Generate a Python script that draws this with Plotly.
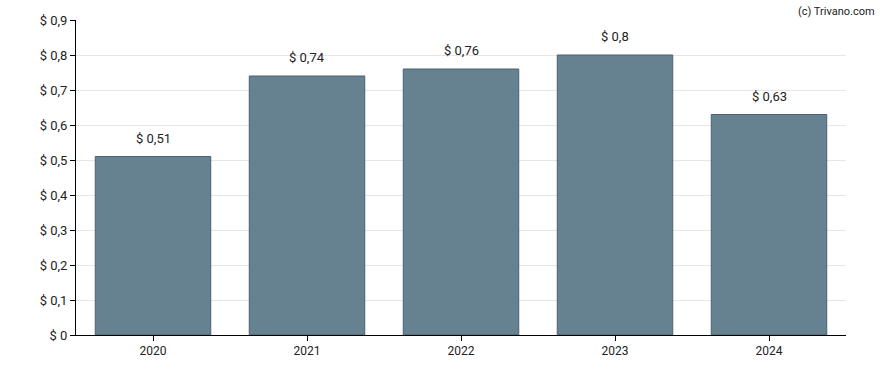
import plotly.graph_objects as go

years = ["2020", "2021", "2022", "2023", "2024"]
values = [0.51, 0.74, 0.76, 0.80, 0.63]
labels = ["$ 0,51", "$ 0,74", "$ 0,76", "$ 0,8", "$ 0,63"]
tick_vals = [0, 0.1, 0.2, 0.3, 0.4, 0.5, 0.6, 0.7, 0.8, 0.9]
tick_text = ["$ 0", "$ 0,1", "$ 0,2", "$ 0,3", "$ 0,4", "$ 0,5", "$ 0,6", "$ 0,7", "$ 0,8", "$ 0,9"]

fig = go.Figure()
fig.add_trace(go.Bar(
    x=years, y=values,
    marker=dict(color="#66818f", line=dict(color="#4a6274", width=1)),
    width=0.75, hoverinfo="skip",
))
annotations = [dict(x=i, y=v, xref="x", yref="y", text=t, showarrow=False,
                    yanchor="bottom", yshift=9,
                    font=dict(family="Roboto", size=13, color="#222"))
               for i, (v, t) in enumerate(zip(values, labels))]
annotations.append(dict(text="(c) Trivano.com", xref="paper", yref="paper",
                        x=1.04, y=1.055, xanchor="right", yanchor="top",
                        showarrow=False, font=dict(size=11, color="#222")))
fig.update_layout(
    width=888, height=370,
    margin=dict(l=76, r=42, t=20, b=35),
    paper_bgcolor="white", plot_bgcolor="white",
    font=dict(family="Roboto", size=13, color="#222"),
    showlegend=False,
    xaxis=dict(type="category", range=[-0.5, len(years) - 0.5], showline=True,
               linecolor="#000", linewidth=1,
               ticks="outside", ticklen=5, tickcolor="#000", tickfont=dict(size=12)),
    yaxis=dict(range=[0, 0.9], tickvals=tick_vals, ticktext=tick_text,
               showline=True, linecolor="#000", linewidth=1, ticks="outside",
               ticklen=5, tickcolor="#000", gridcolor="#e6e6e6", zeroline=False,
               tickfont=dict(size=13)),
    annotations=annotations,
)
fig.write_html("out.html", config={"displayModeBar": False},
               post_script="document.body.style.margin='0';")
